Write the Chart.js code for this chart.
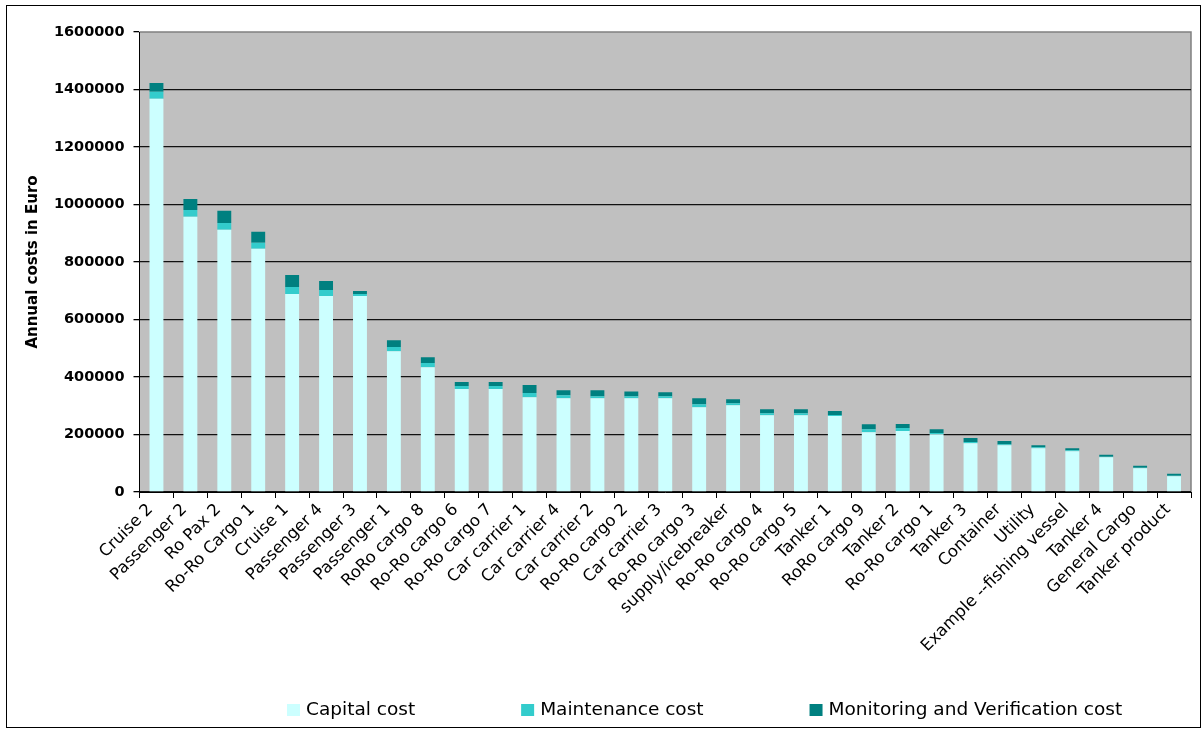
<!DOCTYPE html>
<html>
<head>
<meta charset="utf-8">
<script src="https://cdn.jsdelivr.net/npm/chart.js@4.4.1/dist/chart.umd.min.js"></script>
<style>
  html, body { margin: 0; padding: 0; background: #ffffff; }
  #wrap { position: relative; width: 1202px; height: 729px; }
  canvas { display: block; }
</style>
</head>
<body>
<div id="wrap"><canvas id="chart" width="1202" height="729"></canvas></div>
<script>
// ---- Data ----
const categories = [
  "Cruise 2", "Passenger 2", "Ro Pax 2", "Ro-Ro Cargo 1", "Cruise 1", "Passenger 4",
  "Passenger 3", "Passenger 1", "RoRo cargo 8", "Ro-Ro cargo 6", "Ro-Ro cargo 7",
  "Car carrier 1", "Car carrier 4", "Car carrier 2", "Ro-Ro cargo 2", "Car carrier 3",
  "Ro-Ro cargo 3", "supply/icebreaker", "Ro-Ro cargo 4", "Ro-Ro cargo 5", "Tanker 1",
  "RoRo cargo 9", "Tanker 2", "Ro-Ro cargo 1", "Tanker 3", "Container", "Utility",
  "Example --fishing vessel", "Tanker 4", "General Cargo", "Tanker product"
];
const capitalCost = [
  1368000, 957000, 912000, 846000, 689000, 682000,
  682000, 490000, 434000, 358000, 358000,
  330000, 326000, 326000, 326000, 326000,
  295000, 302000, 267000, 267000, 264000,
  208000, 212000, 201000, 170000, 163000, 152000,
  142000, 121000, 83000, 55000
];
const maintenanceCost = [
  24000, 24000, 24000, 21000, 24000, 21000,
  7000, 14000, 15000, 10500, 10500,
  14000, 10500, 7000, 7000, 7000,
  10500, 7000, 7000, 7000, 3500,
  10500, 10500, 4600, 3500, 3500, 3500,
  3500, 2000, 1500, 1500
];
const monitoringCost = [
  31000, 38000, 42000, 38000, 42000, 31000,
  10500, 24000, 20000, 14000, 14000,
  28000, 17000, 21000, 17000, 14000,
  21000, 14000, 14000, 14000, 14000,
  17000, 14000, 13000, 14000, 10500, 7000,
  7000, 7000, 7000, 7000
];
const seriesNames = ["Capital cost", "Maintenance cost", "Monitoring and Verification cost"];
const yTickMin = 0;
const yTickMax = 1600000;
const yTickStep = 200000;
const yAxisTitle = "Annual costs in Euro";

// ---- Styling ----
const COLORS = ["#CCFFFF", "#33CCCC", "#008080"];
const W = 1202, H = 729;
const PLOT_LEFT = 139.5, PLOT_RIGHT = 1191, PLOT_TOP = 32, PLOT_BOTTOM = 492;

const backgroundPlugin = {
  id: 'bgPlugin',
  beforeDraw(chart) {
    const ctx = chart.ctx, a = chart.chartArea;
    ctx.save();
    ctx.fillStyle = '#ffffff';
    ctx.fillRect(0, 0, chart.width, chart.height);
    // outer frame
    ctx.strokeStyle = '#000000';
    ctx.lineWidth = 1;
    ctx.strokeRect(6.5, 5.5, 1194, 722);
    // plot area
    ctx.fillStyle = '#C0C0C0';
    ctx.fillRect(a.left, a.top, a.right - a.left, a.bottom - a.top);
    ctx.strokeStyle = '#808080';
    ctx.lineWidth = 1.5;
    ctx.beginPath();
    ctx.moveTo(a.left, a.top);
    ctx.lineTo(a.right, a.top);
    ctx.lineTo(a.right, a.bottom);
    ctx.stroke();
    ctx.restore();
  }
};

const legendPlugin = {
  id: 'excelLegend',
  afterDraw(chart) {
    const ctx = chart.ctx;
    ctx.save();
    ctx.font = '18.5px "DejaVu Sans"';
    ctx.textBaseline = 'middle';
    ctx.textAlign = 'left';
    let x = 287;
    const boxTop = 704, boxW = 13, boxH = 12, textY = 710.5;
    chart.data.datasets.forEach(ds => {
      ctx.fillStyle = ds.backgroundColor;
      ctx.fillRect(x, boxTop, boxW, boxH);
      ctx.fillStyle = '#000000';
      ctx.fillText(ds.label, x + 19, textY);
      x += 19 + ctx.measureText(ds.label).width + 106;
    });
    ctx.restore();
  }
};

const datasetValues = [capitalCost, maintenanceCost, monitoringCost];
const datasets = seriesNames.map((name, i) => ({
  label: name,
  data: datasetValues[i],
  backgroundColor: COLORS[i],
  borderWidth: 0,
  barPercentage: 0.41,
  categoryPercentage: 1.0
}));

new Chart(document.getElementById('chart'), {
  type: 'bar',
  data: { labels: categories, datasets },
  plugins: [backgroundPlugin, legendPlugin],
  options: {
    responsive: false,
    devicePixelRatio: 1,
    animation: false,
    layout: { padding: { left: 0, right: W - PLOT_RIGHT, top: PLOT_TOP, bottom: 0 } },
    plugins: {
      legend: { display: false },
      tooltip: { enabled: false },
      title: { display: false }
    },
    scales: {
      x: {
        stacked: true,
        offset: true,
        border: { display: true, color: '#000000', width: 1 },
        grid: {
          display: true,
          offset: true,
          drawOnChartArea: false,
          drawTicks: true,
          tickLength: 6,
          color: '#000000'
        },
        ticks: {
          autoSkip: false,
          maxRotation: 45,
          minRotation: 45,
          padding: 2,
          labelOffset: -6,
          color: '#000000',
          font: { family: '"DejaVu Sans"', size: 16.5 }
        },
        afterFit(scale) { scale.height = H - PLOT_BOTTOM; }
      },
      y: {
        stacked: true,
        min: yTickMin,
        max: yTickMax,
        border: { display: true, color: '#000000', width: 1 },
        grid: {
          color: (c) => (c.tick && c.tick.value === yTickMax) ? 'rgba(0,0,0,0)' : '#111111',
          tickColor: '#000000',
          tickLength: 6,
          lineWidth: 1.3
        },
        ticks: {
          stepSize: yTickStep,
          padding: 9,
          color: '#000000',
          font: { family: '"DejaVu Sans"', size: 14.5, weight: 'bold' },
          callback: (v) => String(v)
        },
        title: {
          display: true,
          text: yAxisTitle,
          color: '#000000',
          font: { family: '"DejaVu Sans"', size: 15, weight: 'bold' },
          padding: { top: 24, bottom: 0 }
        },
        afterFit(scale) { scale.width = PLOT_LEFT; }
      }
    }
  }
});
</script>
</body>
</html>
